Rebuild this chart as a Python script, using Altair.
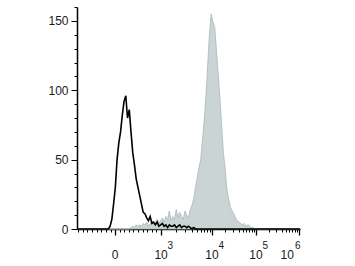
import math
import altair as alt
import pandas as pd

# ---- data (x in display channels 0..1024, y = event count) ----
black_start = 136
black_counts = [0, 0, 2, 7, 18, 30, 50, 62, 70, 82, 92, 96, 80, 86, 70, 55, 46, 36, 30, 24,
                18, 12, 11, 8, 6, 9, 4, 5, 3, 5, 2, 3, 4, 2, 3, 1, 3, 2, 2, 3,
                1, 2, 3, 1, 2, 2, 1, 2, 1, 0, 1, 0]

gray_start = 240
gray_counts = [0, 1, 2, 1, 3, 2, 3, 2, 4, 3, 5, 2, 4, 6, 3, 5, 7, 4, 6, 8,
               5, 9, 7, 13, 6, 9, 7, 14, 8, 12, 9, 7, 13, 10, 8, 14, 17, 22, 30, 37,
               44, 50, 64, 78, 95, 118, 140, 155, 149, 146, 130, 112, 95, 75, 55, 44, 29, 22, 16, 13,
               11, 8, 6, 5, 4, 3, 4, 2, 3, 2, 1, 1, 0]

bin_width = 8
major_ticks = [175, 386, 620, 822, 1019]
major_base = ["0", "10", "10", "10", "10"]
major_exp = ["", "3", "4", "5", "6"]
y_major = [0, 50, 100, 150]
y_minor = [v for v in range(0, 161, 10) if v not in y_major]


def make_df(start, counts, name):
    xs = [0] + [start + i * bin_width for i in range(len(counts))] + [1024]
    ys = [0] + counts + [0]
    return pd.DataFrame({"ch": xs, "count": ys, "series": name})


df_black = make_df(black_start, black_counts, "control")
df_gray = make_df(gray_start, gray_counts, "stained")
df_lab = pd.DataFrame({"ch": major_ticks, "base": major_base, "exp": major_exp})
df_lab_main = df_lab.iloc[:-1]
df_lab_last = df_lab.iloc[-1:]

# minor tick positions
minor = [round(175 + 21.1 * k) for k in range(-8, 10) if k != 0]
for a, b in zip(major_ticks[1:-1], major_ticks[2:]):
    for m in range(2, 10):
        minor.append(round(a + math.log10(m) * (b - a)))
x_minor = sorted(set(minor))

FONT = "Liberation Sans"
LAB_COLOR = "#1a1a1a"
common = dict(title=None, grid=False, domainColor="black", domainWidth=1.5,
              tickColor="black", tickWidth=1, labelFont=FONT, labelFontSize=12,
              labelColor=LAB_COLOR, labelOverlap=False)

x_axis_major = alt.Axis(values=major_ticks, labels=False, tickSize=6, tickWidth=1.3,
                        orient="bottom", title=None, grid=False, domainColor="black",
                        domainWidth=1.5, tickColor="black")
x_axis_minor = alt.Axis(values=x_minor, labels=False, tickSize=3, domain=False,
                        orient="bottom", title=None, grid=False, tickColor="black", tickWidth=1)
y_axis_major = alt.Axis(values=y_major, tickSize=6, labelPadding=3, orient="left", **common)
y_axis_minor = alt.Axis(values=y_minor, labels=False, tickSize=3, domain=False,
                        orient="left", title=None, grid=False, tickColor="black", tickWidth=1)

x_scale = alt.Scale(domain=[0, 1024], nice=False, zero=False)
y_scale = alt.Scale(domain=[0, 160], nice=False)

gray = alt.Chart(df_gray).mark_area(
    color="#cad4d4", stroke="#aab6b6", strokeWidth=0.8, interpolate="linear", opacity=1
).encode(
    x=alt.X("ch:Q", scale=x_scale, axis=x_axis_minor),
    y=alt.Y("count:Q", scale=y_scale, axis=y_axis_minor),
)

black = alt.Chart(df_black).mark_line(
    color="black", strokeWidth=1.6, interpolate="linear"
).encode(
    x=alt.X("ch:Q", scale=x_scale, axis=x_axis_major),
    y=alt.Y("count:Q", scale=y_scale, axis=y_axis_major),
)

BASE_Y = 252   # baseline of tick labels, in plot coordinates
EXP_Y = 242


def lab_layer(df, field, size, align, dx, ypos):
    return alt.Chart(df).mark_text(
        font=FONT, fontSize=size, align=align, baseline="alphabetic",
        color=LAB_COLOR, dx=dx, clip=False
    ).encode(
        x=alt.X("ch:Q", scale=x_scale, axis=None),
        y=alt.value(ypos),
        text=f"{field}:N",
    )


base_main = lab_layer(df_lab_main, "base", 12, "center", 0, BASE_Y)
exp_main = lab_layer(df_lab_main, "exp", 10, "left", 6.5, EXP_Y)
base_last = lab_layer(df_lab_last, "base", 12, "right", -5, BASE_Y)
exp_last = lab_layer(df_lab_last, "exp", 10, "left", -4, EXP_Y)

chart = alt.layer(gray, black, base_main, exp_main, base_last, exp_last).resolve_axis(
    x="independent", y="independent"
).properties(
    width=223,
    height=222,
    autosize=alt.AutoSizeParams(type="none"),
    padding={"left": 77, "top": 7, "right": 55, "bottom": 37},
).configure(background="white").configure_view(stroke=None)

chart.save("out.html", embed_options={"renderer": "svg", "actions": False})
